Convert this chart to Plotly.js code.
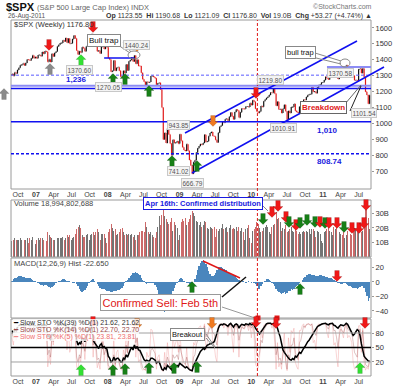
<!DOCTYPE html>
<html><head><meta charset="utf-8">
<script src="https://cdn.plot.ly/plotly-3.0.1.min.js"></script>
<style>html,body{margin:0;padding:0;background:#fff}#chart{width:400px;height:387px}</style>
</head><body><div id="chart"></div>
<script>
// ---------- DATA (weekly, Fridays from 2006-09-01) ----------
const startDate = '2006-09-01';
const firstOpen = 1303;
const closes = [
 1311,1299,1320,1314,1336,1349,1366,1368,1377,1364,1380,1401,1400,1396,1409,1427,1410,1418,
 1409,1430,1430,1422,1448,1438,1455,1451,1387,1402,1386,1437,1421,1443,1452,1484,1494,1505,1505,1522,1515,1536,1507,1533,1502,1503,1530,1552,1534,1458,1433,1453,1445,1479,1473,1453,1484,1525,1527,1557,1561,1500,1535,1509,1453,1458,1440,1481,1504,1468,1484,1478,
 1411,1401,1325,1330,1395,1331,1349,1353,1331,1294,1288,1330,1316,1370,1333,1390,1398,1414,1389,1426,1375,1400,1361,1360,1318,1278,1262,1240,1261,1257,1260,1297,1298,1292,1283,1242,1252,1255,1213,1099,899,940,877,968,930,873,800,896,876,879,887,873,
 931,890,850,832,826,869,827,770,735,683,756,768,816,843,857,870,866,877,929,883,887,919,940,946,921,918,896,880,941,979,987,1010,1005,1026,1029,1016,1042,1068,1044,1025,1071,1087,1080,1036,1069,1093,1091,1091,1106,1106,1102,1127,1115,
 1145,1136,1092,1074,1066,1075,1109,1104,1139,1150,1160,1167,1179,1194,1192,1217,1187,1111,1136,1087,1089,1065,1092,1117,1076,1023,1078,1065,1102,1102,1122,1079,1071,1065,1105,1110,1126,1149,1147,1166,1177,1183,1183,1226,1199,1200,1190,1225,1240,1244,1257,1258,
 1272,1293,1283,1276,1311,1329,1343,1320,1321,1304,1279,1314,1332,1328,1320,1337,1364,1340,1338,1333,1331,1300,1271,1272,1268,1340,1344,1316,1345,1292,1199,1179,1124,1177
];
const volumesB = [
 11,12,13,12,12,12,13,12,13,12,12,13,10,13,12,14,11,9,
 12,13,12,13,13,12,13,11,17,15,14,13,12,12,12,13,13,13,13,14,12,13,15,14,15,12,13,14,16,19,21,22,20,15,14,14,15,16,12,15,16,17,15,17,19,17,12,16,16,16,13,10,
 17,19,23,20,18,19,15,16,17,19,20,17,15,16,15,16,15,16,14,15,12,15,15,17,18,18,17,24,21,17,16,17,15,14,13,17,21,28,22,29,34,28,26,24,23,24,27,18,24,22,20,12,
 15,24,26,25,27,22,24,26,29,32,30,28,25,24,22,24,21,22,25,24,20,19,21,20,19,21,14,19,18,19,20,23,19,20,21,17,20,22,19,20,19,21,18,21,18,20,17,12,19,20,22,13,10,
 18,19,21,24,23,20,17,18,20,21,22,21,17,16,21,22,23,31,26,27,24,18,20,19,22,17,18,19,21,18,17,19,18,16,17,16,17,18,17,18,17,19,16,19,19,18,14,18,17,16,11,10,
 17,18,19,22,18,17,15,21,19,22,24,17,16,15,17,13,15,18,17,16,15,19,20,19,22,17,15,17,18,23,33,35,27,19
];
const macdHist = [
 2,4,5,6,7,8,8,8,7,7,6,6,6,5,4,3,2,1,
 0,-2,-3,-4,-4,-5,-4,-4,-6,-7,-8,-7,-6,-4,-2,0,1,2,3,4,4,3,2,2,1,0,-1,-1,0,-3,-6,-9,-12,-14,-13,-11,-8,-5,-2,1,3,4,2,0,-3,-6,-8,-9,-10,-10,-11,-12,
 -12,-13,-14,-14,-13,-13,-12,-11,-11,-10,-8,-5,-2,1,3,6,8,10,12,13,14,13,11,9,6,3,1,-1,-3,-2,-2,-1,-1,-2,-4,-7,-11,-16,-22,-30,-37,-42,-40,-36,-30,-24,-18,-12,-8,-4,-1,2,
 4,5,4,2,0,-1,-2,-3,-3,-2,0,4,10,16,22,26,29,30,28,25,20,15,11,8,8,10,13,17,20,21,20,19,18,17,16,14,13,12,10,9,8,6,4,3,1,0,1,0,-1,0,1,0,-1,
 0,-1,-3,-6,-10,-9,-6,-3,0,2,4,4,3,1,-1,-3,-5,-9,-12,-14,-15,-16,-15,-14,-16,-15,-13,-12,-10,-11,-9,-7,-6,-4,-2,0,3,5,7,9,10,11,11,10,10,9,8,8,8,9,9,8,
 8,7,7,6,6,5,4,3,2,1,-1,-2,-3,-3,-2,-2,-3,-4,-5,-6,-7,-8,-8,-8,-9,-8,-7,-6,-5,-8,-14,-20,-26,-22.65
];
const stoK39 = [
 85,80,88,85,92,95,97,96,98,93,96,99,97,94,96,99,93,95,
 92,96,95,92,97,94,97,96,72,75,65,80,75,82,85,93,96,98,97,99,96,99,90,95,87,88,94,98,93,65,55,60,57,70,68,62,72,85,86,95,96,65,60,55,52,48,55,58,50,52,48,47,
 32,28,20,22,30,24,27,28,25,20,20,28,26,35,30,40,45,50,45,55,48,52,45,44,38,30,25,22,24,22,22,28,28,26,24,18,20,20,12,5,3,8,5,13,10,7,4,12,10,11,13,11,
 18,15,12,10,8,10,6,4,3,2,12,18,25,32,38,42,45,48,46,52,55,56,58,58,60,62,70,82,90,96,98,97,99,98,96,94,98,100,96,92,97,99,97,90,95,98,97,96,99,98,97,100,97,
 99,97,90,85,80,78,82,87,92,96,99,100,100,100,98,100,98,95,90,80,72,58,45,40,35,30,28,25,24,27,25,32,30,35,40,38,45,48,52,58,62,65,70,75,80,82,90,93,95,97,98,99,
 99,100,98,97,99,100,100,96,95,92,90,94,97,96,95,97,100,98,92,85,80,75,78,82,87,85,75,58,40,32,28,25,22,21.62
];
const stoK14 = [
 80,70,85,78,92,95,98,96,97,85,90,98,95,88,93,98,85,90,
 82,95,94,85,96,88,97,94,35,45,30,70,62,75,82,95,97,99,96,99,92,98,75,90,70,72,88,97,85,30,20,35,28,60,55,42,65,88,89,97,98,55,72,58,25,28,18,45,62,35,45,42,
 12,10,5,8,35,15,25,28,18,8,6,28,22,55,38,70,78,88,72,95,60,70,45,40,20,8,5,4,15,14,18,45,48,42,38,15,22,25,12,4,2,18,8,30,22,10,2,35,28,30,35,25,
 55,40,25,18,15,30,15,5,3,2,30,35,55,68,75,80,78,82,95,72,75,85,92,95,80,78,65,55,85,95,96,99,95,98,97,90,95,99,88,75,92,96,90,65,80,92,90,90,96,95,92,98,90,
 96,88,55,35,30,38,65,60,85,92,96,98,99,100,97,99,85,35,50,25,28,15,35,50,25,5,35,28,55,55,70,40,30,25,60,65,80,95,92,97,98,99,96,99,85,80,75,90,96,97,99,99,
 99,100,92,88,98,99,100,85,85,70,50,75,88,85,80,90,100,88,85,82,80,62,40,35,30,85,88,65,85,50,15,12,10,22.70
];
const stoK5 = [
 70,55,90,65,95,98,99,90,96,70,88,99,90,75,92,99,70,88,
 65,97,92,70,98,75,98,90,10,35,15,80,55,85,88,99,98,99,95,100,85,99,45,88,40,50,90,99,75,10,5,30,20,75,60,25,70,95,92,99,99,30,75,45,8,20,5,55,80,20,50,40,
 5,8,3,10,70,10,40,45,15,5,3,45,30,85,40,88,92,98,65,99,30,70,20,25,8,3,5,2,40,30,35,88,85,60,45,5,30,35,8,2,1,40,5,60,25,5,2,80,50,60,70,40,
 85,45,15,10,8,50,10,3,2,1,60,55,85,88,92,95,85,90,99,45,60,90,97,98,60,55,30,20,95,99,98,99,90,99,98,75,96,99,70,40,95,99,85,30,80,97,90,88,99,95,85,99,70,
 98,75,15,10,8,30,85,70,96,98,99,99,99,100,90,99,60,5,60,10,20,5,55,80,15,2,70,40,85,80,90,20,10,5,85,85,95,99,90,98,99,99,95,99,60,65,45,95,99,97,99,99,
 99,100,80,70,99,99,100,55,60,30,10,85,95,80,70,95,100,70,75,70,60,20,5,8,10,95,95,40,90,20,3,10,5,23.81
];
const tickDates = ['2006-10-01','2007-01-01','2007-04-01','2007-07-01','2007-10-01','2008-01-01','2008-04-01','2008-07-01','2008-10-01','2009-01-01','2009-04-01','2009-07-01','2009-10-01','2010-01-01','2010-04-01','2010-07-01','2010-10-01','2011-01-01','2011-04-01','2011-07-01'];
const tickLabels = ['Oct','<b>07</b>','Apr','Jul','Oct','<b>08</b>','Apr','Jul','Oct','<b>09</b>','Apr','Jul','Oct','<b>10</b>','Apr','Jul','Oct','<b>11</b>','Apr','Jul'];
const priceTicks = [700,800,900,1000,1100,1200,1300,1400,1500,1600];
const volTicks = [10,20,30];
const volTickLabels = ['10B','20B','30B'];
const macdTicks = [-40,-20,0,20];
const stoTicks = [20,50,80];

// ---------- derived ----------
const dates = closes.map((_, i) => {
  const d = new Date(Date.parse(startDate + 'T00:00:00Z') + i * 7 * 864e5);
  return d.toISOString().slice(0, 10);
});
const opens = closes.map((c, i) => i === 0 ? firstOpen : closes[i - 1]);
const highs = closes.map((c, i) => Math.max(c, opens[i]));
const lows = closes.map((c, i) => Math.min(c, opens[i]));
const volColors = closes.map((c, i) => c < opens[i] ? '#cc6a6a' : '#747474');

const FONT = 'Liberation Sans, Arial, sans-serif';
const PX = px => (px - 11) / 360;
const PY = py => (376 - py) / 356;

const traces = [
  {type:'ohlc', x:dates, open:opens, high:highs, low:lows, close:closes, xaxis:'x', yaxis:'y',
   increasing:{line:{color:'#111', width:1.2}}, decreasing:{line:{color:'#e01818', width:1.2}}, tickwidth:0.3, hoverinfo:'skip'},
  {type:'bar', x:dates, y:volumesB, xaxis:'x2', yaxis:'y2', marker:{color:volColors, line:{width:0}}, width:5*864e5, hoverinfo:'skip'},
  {type:'bar', x:dates, y:macdHist, xaxis:'x3', yaxis:'y3', marker:{color:'#4a86bd', line:{width:0}}, width:7*864e5, hoverinfo:'skip'},
  {type:'scatter', mode:'lines', x:dates, y:stoK5, xaxis:'x4', yaxis:'y4', line:{color:'rgba(240,150,150,0.4)', width:1}, hoverinfo:'skip'},
  {type:'scatter', mode:'lines', x:dates, y:stoK14, xaxis:'x4', yaxis:'y4', line:{color:'rgba(160,80,80,0.35)', width:1}, hoverinfo:'skip'},
  {type:'scatter', mode:'lines', x:dates, y:stoK39, xaxis:'x4', yaxis:'y4', line:{color:'#000', width:1.5}, hoverinfo:'skip'}
];

const xBase = {type:'date', range:['2006-08-27','2011-09-02'], showgrid:false, zeroline:false, showline:false, ticks:'',
  tickvals:tickDates, ticktext:tickLabels, tickfont:{family:FONT, size:7, color:'#444'}, fixedrange:true};
const yBase = {side:'right', showgrid:false, zeroline:false, showline:false, ticks:'outside', ticklen:2, tickcolor:'#999',
  tickfont:{family:FONT, size:7.5, color:'#333'}, fixedrange:true};

const shapes = [];
const annotations = [];

// panel borders
[[PY(189),1],[PY(257),PY(200)],[PY(318),PY(258)],[0,PY(319)]].forEach(d => {
  shapes.push({type:'rect', xref:'paper', yref:'paper', x0:0, x1:1, y0:d[0], y1:d[1], line:{color:'#9a9a9a', width:1}, fillcolor:'rgba(0,0,0,0)'});
});

// horizontal levels in price panel
const hl = (y, color, width, dash) => shapes.push({type:'line', xref:'paper', yref:'y', x0:0, x1:1, y0:y, y1:y, line:{color, width, dash:dash||'solid'}});
hl(1303, '#5a5aff', 1, '3px,2px');
hl(1236, '#8c8cf4', 2);
hl(1219.8, '#1010f0', 1.5);
hl(1010, '#1010f0', 1.5);
hl(808.74, '#1010f0', 1.5, '3px,2px');
shapes.push({type:'line', xref:'x', yref:'y', x0:'2007-12-14', x1:'2008-05-16', y0:1411, y1:1411, line:{color:'#1010f0', width:1.5}});
shapes.push({type:'line', xref:'x', yref:'y', x0:'2011-01-21', x1:'2011-09-02', y0:1355, y1:1355, line:{color:'#8c8cf4', width:2}});

// STO reference lines
const sl = (y, color, width) => shapes.push({type:'line', xref:'paper', yref:'y4', x0:0, x1:1, y0:y, y1:y, line:{color, width}});
sl(80, '#a0a0a0', 1); sl(50, '#000', 1.6); sl(20, '#a0a0a0', 1);

// pixel-space drawing helpers (annotations)
const pline = (x0,y0,x1,y1,color,width,dash) => shapes.push({type:'line', xref:'paper', yref:'paper', x0:PX(x0), y0:PY(y0), x1:PX(x1), y1:PY(y1), line:{color, width, dash:dash||'solid'}});
pline(185,133,357,41,'#1010f0',1.5);
pline(192,173,384,67,'#1010f0',1.5);
pline(203,261,240,278,'#e01818',1.5);
shapes.push({type:'line', xref:'x', yref:'paper', x0:'2010-02-01', x1:'2010-02-01', y0:0, y1:1, line:{color:'#e01818', width:1, dash:'3px,2px'}});
const circ = (cx,cy,rx,ry) => shapes.push({type:'circle', xref:'paper', yref:'paper', x0:PX(cx-rx), x1:PX(cx+rx), y0:PY(cy+ry), y1:PY(cy-ry), line:{color:'#888', width:1}});
circ(134,55,6,4); circ(345,63,5,4);
pline(118,45,130,53,'#888',1); pline(123,42,131,52,'#888',1);
pline(315,53,341,61,'#888',1); pline(312,57,341,64,'#888',1);
pline(345,104,361,85,'#666',1); pline(350,111,361,86,'#222',1);
pline(222,297,246,277,'#111',1.5); pline(222,307,255,318,'#999',1);
pline(206,334,215,347,'#888',1); pline(206,338,215,348,'#888',1);
pline(263,206,268,211,'#888',1);
[[258,318],[277,318]].forEach(p => shapes.push({type:'rect', xref:'paper', yref:'paper', x0:PX(p[0]-2.5), x1:PX(p[0]+2.5), y0:PY(p[1]+2.5), y1:PY(p[1]-2.5), fillcolor:'#e01818', line:{width:0}}));

// block arrows
function blockArrow(cx, cy, dir, color) {
  const hw = 5, sw = 2.3, h = 11, hh = 5;
  const s = dir === 'd' ? 1 : -1;
  const pts = [
    [cx - sw, cy - s*h/2], [cx + sw, cy - s*h/2], [cx + sw, cy + s*(h/2 - hh)], [cx + hw, cy + s*(h/2 - hh)],
    [cx, cy + s*h/2], [cx - hw, cy + s*(h/2 - hh)], [cx - sw, cy + s*(h/2 - hh)]
  ];
  const path = 'M' + pts.map(p => PX(p[0]).toFixed(5) + ',' + PY(p[1]).toFixed(5)).join(' L') + ' Z';
  shapes.push({type:'path', xref:'paper', yref:'paper', path, fillcolor:color, line:{color:'rgba(0,0,0,0.25)', width:0.5}});
}
const RED = '#f01818', DKG = '#178017', LTG = '#33e033', ORG = '#f07a20', GRY = '#8a8a8a';
const arrowMarks = [
  [93,27,'d',RED],[49,45,'d',RED],[50,69,'u',GRY],[81,60,'u',LTG],[113,79,'u',DKG],[125,79,'u',DKG],[149,91,'u',DKG],
  [137,46,'d',ORG],[172,161,'u',DKG],[197,166,'u',DKG],[213,121,'d',ORG],[256,93,'d',RED],[4,94,'u',GRY],
  [263,219,'d',DKG],[272,212,'d',RED],[278,206,'d',RED],[286,217,'d',RED],[289,222,'d',DKG],[296,225,'d',RED],[300,223,'d',DKG],
  [307,220,'d',DKG],[315,222,'d',DKG],[320,222,'d',RED],[325,223,'d',DKG],[329,223,'d',RED],[337,223,'d',RED],[344,227,'d',DKG],
  [352,228,'d',RED],[359,228,'d',RED],[364,223,'d',RED],[366,205,'d',RED],
  [192,287,'u',DKG],[300,289,'u',DKG],[337,276,'d',RED],
  [93,322,'d',RED],[137,324,'d',ORG],[81,370,'u',LTG],[113,370,'u',DKG],[125,369,'u',DKG],[149,368,'u',DKG],[174,368,'u',DKG],
  [197,367,'u',DKG],[212,323,'d',ORG],[256,322,'d',RED],[276,323,'d',RED],[365,323,'d',RED],[360,368,'u',LTG]
];
arrowMarks.forEach(a => blockArrow(a[0], a[1], a[2], a[3]));

// text annotations (pixel positions)
function txt(t, x, y, opt) {
  opt = opt || {};
  annotations.push(Object.assign({text:t, xref:'paper', yref:'paper', x:PX(x), y:PY(y), showarrow:false,
    xanchor:opt.xa || 'left', yanchor:'middle',
    font:{family:FONT, size:opt.size || 7, color:opt.color || '#333'},
    bgcolor:opt.bg || 'rgba(0,0,0,0)', bordercolor:opt.bc || 'rgba(0,0,0,0)', borderwidth:opt.bc ? 1 : 0, borderpad:opt.pad || 0}));
}
const lbl = (t, x, y) => txt(t, x, y, {xa:'center', size:6.5, color:'#555', bg:'#f4f4f4', bc:'#c8c8c8', pad:0.5});

txt('<b>$SPX</b>', 6, 7, {size:11, color:'#111'});
txt('(S&P 500 Large Cap Index) INDX', 37, 7.5, {size:7.5, color:'#666'});
txt('26-Aug-2011', 8, 16.5, {size:6.5, color:'#555'});
txt('<b>Op</b> 1123.55  <b>Hi</b> 1190.68  <b>Lo</b> 1121.09  <b>Cl</b> 1176.80  <b>Vol</b> 19.0B  <b>Chg</b> +53.27 (+4.74%) ▲', 106, 16.5, {size:7, color:'#333'});
txt('©StockCharts.com', 372, 6, {xa:'right', size:7, color:'#777'});
txt('$SPX (Weekly) 1176.80', 14, 24, {size:7.5, color:'#333'});

txt('Bull trap', 104, 41, {xa:'center', size:8, color:'#111', bg:'#fff', bc:'#888', pad:1});
lbl('1440.24', 136, 45);
lbl('1370.60', 79, 70);
txt('<b>1,236</b>', 76, 80, {xa:'center', size:8, color:'#1a1ae0'});
lbl('1270.05', 108, 87);
lbl('943.85', 178, 125);
lbl('741.02', 178, 171);
lbl('666.79', 192, 183);
lbl('1219.80', 270, 80);
lbl('1010.91', 283, 128);
txt('bull trap', 300, 53, {xa:'center', size:7.5, color:'#111', bg:'#fff', bc:'#888', pad:1});
lbl('1370.58', 340, 73);
txt('<b>Breakdown</b>', 323, 107, {xa:'center', size:8, color:'#e01818', bg:'#fff', bc:'#666', pad:1});
lbl('1101.54', 364, 113);
txt('<b>1,010</b>', 327, 130, {xa:'center', size:8, color:'#1a1ae0'});
txt('<b>808.74</b>', 329, 161, {xa:'center', size:8, color:'#1a1ae0'});

txt('Volume 18,994,802,688', 14, 203.5, {size:7.5, color:'#444'});
txt('<b>Apr 16th: Confirmed distribution</b>', 203, 204, {xa:'center', size:7.5, color:'#1a1ae0', bg:'#fff', bc:'#1a1ae0', pad:1});
txt('MACD(12,26,9) Hist -22.650', 14, 263.5, {size:7.5, color:'#444'});
txt('Confirmed Sell: Feb 5th', 160, 302, {xa:'center', size:11, color:'#e01818', bg:'#fff', bc:'#999', pad:1.5});

const legBg = 'rgba(255,255,255,0.8)';
txt('<span style="color:#000">━</span> Slow STO %K(39) %D(1) 21.62, 21.62', 13, 322.5, {size:7, color:'#333', bg:legBg});
txt('<span style="color:#9a4848">━</span> Slow STO %K(14) %D(1) 22.70, 22.70', 13, 329.5, {size:7, color:'#9a4848', bg:legBg});
txt('<span style="color:#f08a8a">━</span> Slow STO %K(5) %D(1) 23.81, 23.81', 13, 336.5, {size:7, color:'#f07070', bg:legBg});
txt('Breakout', 187, 334, {xa:'center', size:7.5, color:'#111', bg:'#fff', bc:'#888', pad:1});

const layout = {
  width:400, height:387, margin:{l:11, r:29, t:20, b:11}, paper_bgcolor:'#fff', plot_bgcolor:'#fff',
  showlegend:false, bargap:0, font:{family:FONT},
  xaxis: Object.assign({}, xBase, {anchor:'y', rangeslider:{visible:false}}),
  xaxis2: Object.assign({}, xBase, {anchor:'y2', matches:'x', showticklabels:false}),
  xaxis3: Object.assign({}, xBase, {anchor:'y3', matches:'x', showticklabels:false}),
  xaxis4: Object.assign({}, xBase, {anchor:'y4', matches:'x'}),
  yaxis: Object.assign({}, yBase, {domain:[PY(189),1], range:[587,1650], tickvals:priceTicks, anchor:'x'}),
  yaxis2: Object.assign({}, yBase, {domain:[PY(257),PY(200)], range:[0,39.3], tickvals:volTicks, ticktext:volTickLabels, anchor:'x2'}),
  yaxis3: Object.assign({}, yBase, {domain:[PY(318),PY(258)], range:[-49.7,33.1], tickvals:macdTicks, anchor:'x3'}),
  yaxis4: Object.assign({}, yBase, {domain:[0,PY(319)], range:[-9,109], tickvals:stoTicks, anchor:'x4'}),
  shapes, annotations
};
Plotly.newPlot('chart', traces, layout, {staticPlot:true, displayModeBar:false});
</script></body></html>
